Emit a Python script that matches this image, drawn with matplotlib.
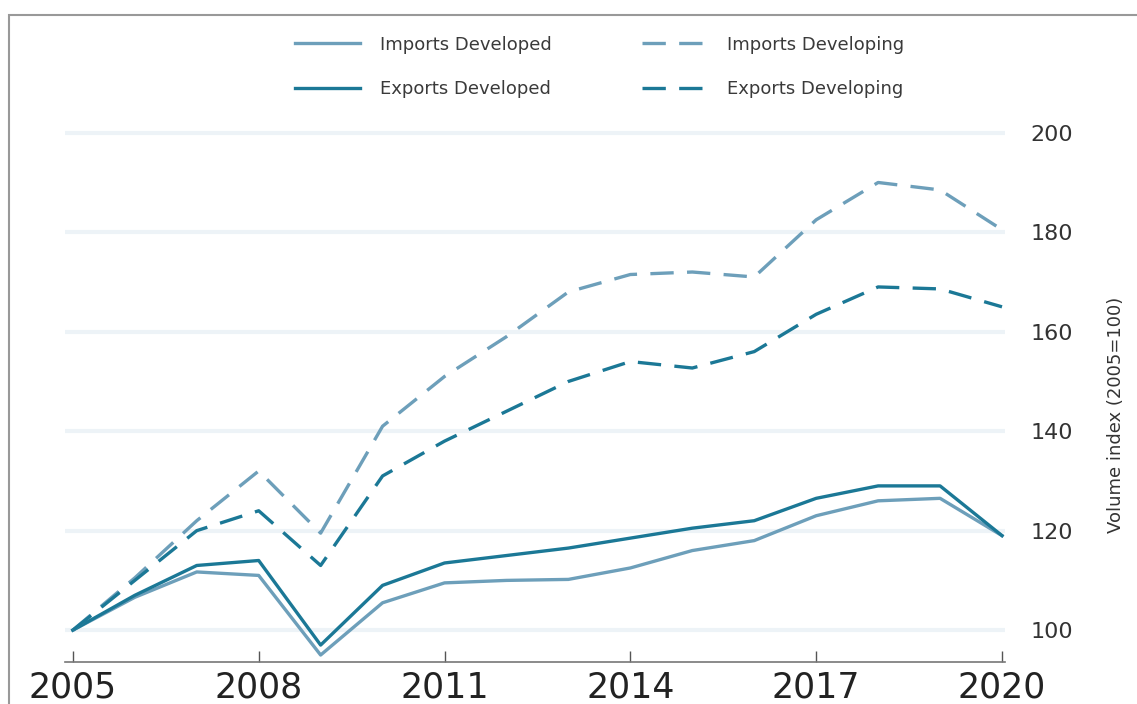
import matplotlib
matplotlib.use("Agg")
import matplotlib.pyplot as plt
from matplotlib.patches import Rectangle

years = list(range(2005, 2021))
imports_developed = [100, 106.6, 111.7, 111, 95, 105.5, 109.5, 110, 110.2, 112.5, 116, 118, 123, 126, 126.5, 119]
exports_developed = [100, 107, 113, 114, 97, 109, 113.5, 115, 116.5, 118.5, 120.5, 122, 126.5, 129, 129, 119]
imports_developing = [100, 110.5, 122, 132, 119.5, 141, 151, 159, 168, 171.5, 172, 171, 182.5, 190, 188.5, 180.5]
exports_developing = [100, 110, 120, 124, 113, 131, 138, 144, 150, 154, 152.7, 156, 163.5, 169, 168.6, 165]

x_ticks = [2005, 2008, 2011, 2014, 2017, 2020]
y_ticks = [100, 120, 140, 160, 180, 200]

light = "#6d9fba"
dark = "#1b7896"

plt.rcParams["font.family"] = ["DejaVu Sans"]

fig = plt.figure(figsize=(11.37, 7.04), dpi=100)
ax = fig.add_axes([0.057, 0.0597, 0.827, 0.78])

ax.plot(years, imports_developed, color=light, lw=2.4, label="Imports Developed")
ax.plot(years, exports_developed, color=dark, lw=2.4, label="Exports Developed")
ax.plot(years, imports_developing, color=light, lw=2.4, dashes=(7, 4), label="Imports Developing")
ax.plot(years, exports_developing, color=dark, lw=2.4, dashes=(7, 4), label="Exports Developing")

ax.set_xlim(2004.87, 2020.05)
ax.set_ylim(93.6, 204)
ax.set_xticks(x_ticks)
ax.set_yticks(y_ticks)
ax.yaxis.tick_right()
ax.yaxis.set_label_position("right")
ax.tick_params(axis="y", length=0, pad=18, labelsize=16, labelcolor="#333333")
ax.tick_params(axis="x", direction="in", length=8, width=1, color="#555555",
               pad=6, labelsize=25, labelcolor="#222222")
ax.grid(axis="y", color="#edf3f7", lw=3)
ax.set_axisbelow(True)
for s in ["left", "top", "right"]:
    ax.spines[s].set_visible(False)
ax.spines["bottom"].set_color("#777777")
ax.spines["bottom"].set_linewidth(1.2)
ax.set_ylabel("Volume index (2005=100)", fontsize=13, color="#333333")
ax.yaxis.set_label_coords(1.108, 0.45)

fig.legend(loc="center", bbox_to_anchor=(0.527, 0.905), ncol=2, frameon=False,
           fontsize=13, handlelength=3.6, handletextpad=1.1, columnspacing=5.0,
           labelspacing=1.45, labelcolor="#3a3a3a")

# grey frame around the picture
fig.patches.append(Rectangle((9 / 1137, -1), 2, 1 - 15 / 704 + 1, transform=fig.transFigure,
                             fill=False, edgecolor="#999999", lw=1.5, clip_on=False))

fig.savefig("out.png", dpi=100)
